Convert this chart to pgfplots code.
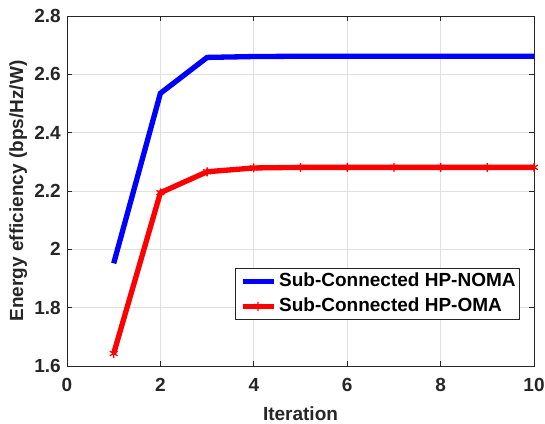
\documentclass[border=0pt]{standalone}
\usepackage{pgfplots}
\pgfplotsset{compat=1.18}
\usepackage{fontspec}
\setmainfont{Liberation Sans}
\begin{document}
\begin{tikzpicture}
\begin{axis}[
    scale only axis,
    width=467pt, height=350pt,
    xmin=0, xmax=10, ymin=1.6, ymax=2.8,
    xtick={0,2,4,6,8,10},
    ytick={1.6,1.8,2,2.2,2.4,2.6,2.8},
    yticklabels={1.6,1.8,2,2.2,2.4,2.6,2.8},
    xmajorgrids, ymajorgrids,
    grid style={color=black!12, line width=0.8pt},
    axis line style={color=black!85, line width=0.9pt},
    major tick style={color=black!85, line width=0.9pt},
    major tick length=4.7pt,
    tick align=inside,
    tick label style={font=\fontsize{19}{22}\selectfont\bfseries, text=black!85, inner sep=0pt},
    xticklabel style={anchor=north, yshift=-12pt},
    yticklabel style={anchor=east, xshift=-6pt},
    /pgf/number format/assume math mode=true,
    xlabel={Iteration},
    ylabel={Energy efficiency (bps/Hz/W)},
    label style={font=\fontsize{19}{22}\selectfont\bfseries, text=black!85, inner sep=0pt},
    xlabel style={at={([yshift=-54pt]axis description cs:0.5,0)}, anchor=base},
    ylabel style={at={([xshift=-44pt]axis description cs:0,0.5)}, anchor=base},
    legend cell align=left,
    legend style={at={(0.970,0.28)}, anchor=north east,
        font=\fontsize{19}{22}\selectfont\bfseries,
        draw=black!85, line width=0.8pt, inner sep=4pt,
        nodes={inner sep=0pt, text height=14pt, text depth=4pt},
        row sep=7pt, column sep=3pt},
    legend image code/.code={
        \draw[#1, line width=5.3pt] (0pt,0pt) -- (31pt,0pt);
        \draw[#1, mark repeat=2, mark phase=2] plot coordinates {(0pt,0pt) (15.5pt,0pt) (31pt,0pt)};
    },
]
\addplot[color=blue, line width=5.3pt, mark=none]
    coordinates {
    (1,1.952)(2,2.535)(3,2.658)(4,2.661)(5,2.662)
    (6,2.662)(7,2.662)(8,2.662)(9,2.662)(10,2.662)
    };\addlegendentry{Sub-Connected HP-NOMA}
\addplot[color=red, line width=5.3pt, mark=asterisk,
    mark options={line width=1.3pt, mark size=4.5pt}]
    coordinates {
    (1,1.643)(2,2.194)(3,2.266)(4,2.279)(5,2.281)
    (6,2.281)(7,2.281)(8,2.281)(9,2.281)(10,2.281)
    };\addlegendentry{Sub-Connected HP-OMA}
\end{axis}
\path ([shift={(-67pt,-57pt)}]current axis.south west) rectangle ++(545pt,423pt);
\end{tikzpicture}
\end{document}
